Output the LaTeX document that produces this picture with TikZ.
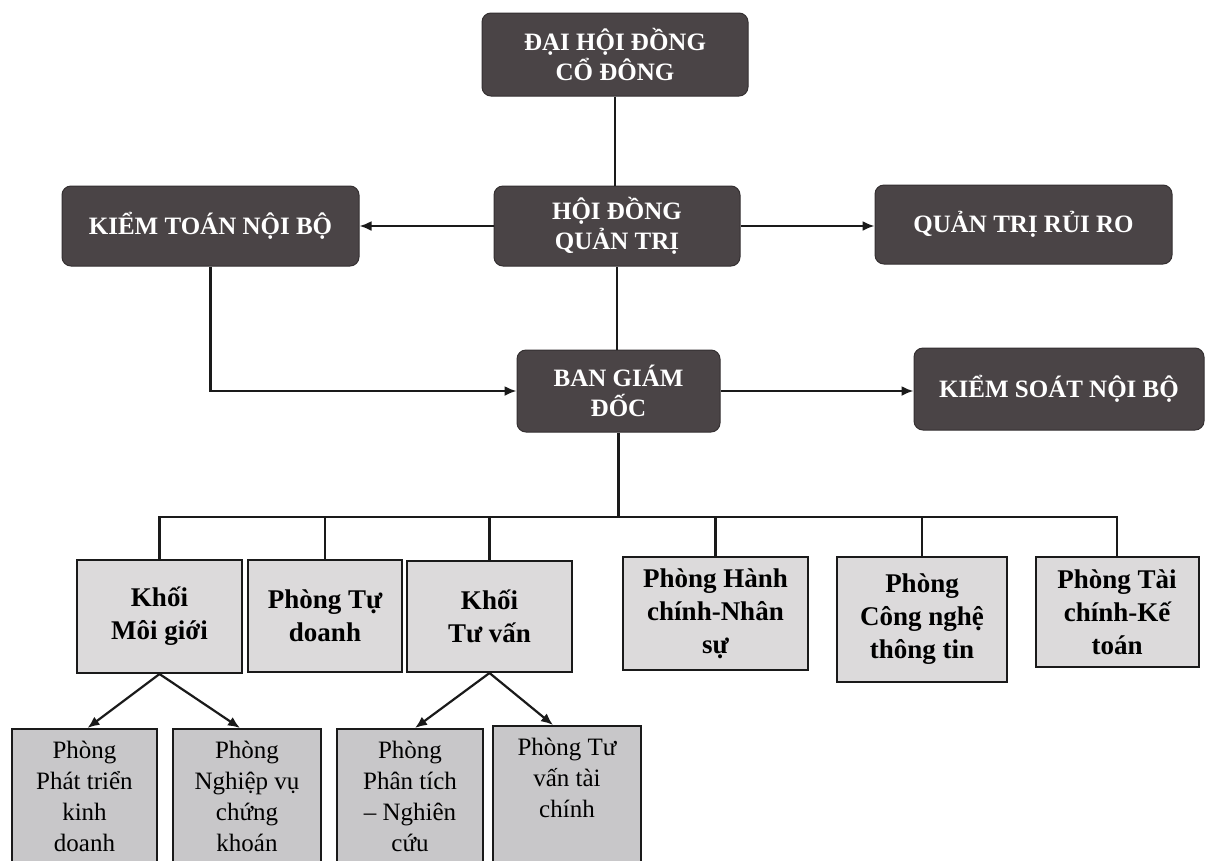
\documentclass[tikz,border=0pt]{standalone}
\usepackage{fontspec}
\setmainfont{Liberation Serif}
\usetikzlibrary{arrows.meta}
\definecolor{darkbox}{HTML}{4A4446}
\definecolor{midfill}{HTML}{DCDADB}
\definecolor{lowfill}{HTML}{C8C7C9}
\definecolor{lin}{HTML}{1A1A1A}
\begin{document}
\begin{tikzpicture}[x=1pt,y=-1pt,
  topbox/.style={draw=darkbox!70!black, fill=darkbox, rounded corners=9pt, text=white,
    font=\bfseries\fontsize{25}{30}\selectfont, align=center, inner sep=0pt, line width=1pt},
  midbox/.style={draw=lin, fill=midfill, line width=2pt, align=center, inner sep=0pt,
    font=\bfseries\fontsize{27}{33}\selectfont},
  lowbox/.style={draw=lin, fill=lowfill, line width=2pt, inner sep=0pt},
  lowtext/.style={align=center, inner sep=0pt, font=\fontsize{25}{31}\selectfont, anchor=north},
  conn/.style={draw=lin, line width=2.2pt},
  arr/.style={conn, -{Latex[length=12pt,width=10pt]}}]
\useasboundingbox (0,0) rectangle (1206,860);
\clip (0,0) rectangle (1206,860);
\fill[white] (0,0) rectangle (1206,860);

% top level
\node[topbox, minimum width=266pt, minimum height=83pt] (dh) at (615,54.5) {ĐẠI HỘI ĐỒNG\\CỔ ĐÔNG};
\node[topbox, minimum width=297pt, minimum height=80pt] (ktnb) at (210.5,226) {KIỂM TOÁN NỘI BỘ};
\node[topbox, minimum width=246pt, minimum height=80pt] (hdqt) at (617,226) {HỘI ĐỒNG\\QUẢN TRỊ};
\node[topbox, minimum width=297pt, minimum height=79pt] (qtrr) at (1023.5,224.5) {QUẢN TRỊ RỦI RO};
\node[topbox, minimum width=203pt, minimum height=82pt] (bgd) at (618.5,391) {BAN GIÁM\\ĐỐC};
\node[topbox, minimum width=290pt, minimum height=82pt] (ksnb) at (1059,389) {KIỂM SOÁT NỘI BỘ};

\draw[conn] (dh.south) -- (dh.south |- hdqt.north);
\draw[conn] (hdqt.south) -- (hdqt.south |- bgd.north);
\draw[arr] (hdqt.west) -- (ktnb.east);
\draw[arr] (hdqt.east) -- (hdqt.east -| qtrr.west);
\draw[arr] (ktnb.south) |- (bgd.west);
\draw[arr] (bgd.east) -- (bgd.east -| ksnb.west);

% middle level
\node[midbox, minimum width=165pt, minimum height=113pt] (kmg) at (159.5,616.5) {Khối\\Môi giới};
\node[midbox, minimum width=154pt, minimum height=112pt] (ptd) at (325,616) {Phòng Tự\\doanh};
\node[midbox, minimum width=165pt, minimum height=111pt] (ktv) at (489.5,616.5) {Khối\\Tư vấn};
\node[midbox, minimum width=185pt, minimum height=113pt] (hcns) at (715.5,613.5) {Phòng Hành\\chính-Nhân\\sự};
\node[midbox, minimum width=170pt, minimum height=125pt] (cntt) at (922,619.5) {Phòng\\Công nghệ\\thông tin};
\node[midbox, minimum width=163pt, minimum height=110pt] (tckt) at (1117,612) {Phòng Tài\\chính-Kế\\toán};

\coordinate (bus) at (618.5,517);
\draw[conn] (bgd.south) -- (bus);
\draw[conn] (kmg.north) -- (kmg.north |- bus) -- (tckt.north |- bus) -- (tckt.north);
\draw[conn] (ptd.north) -- (ptd.north |- bus);
\draw[conn] (ktv.north) -- (ktv.north |- bus);
\draw[conn] (hcns.north) -- (hcns.north |- bus);
\draw[conn] (cntt.north) -- (cntt.north |- bus);

% lower level
\node[lowbox, minimum width=145pt, minimum height=150pt, anchor=north] (ppt) at (84.5,728) {};
\node[lowbox, minimum width=148pt, minimum height=150pt, anchor=north] (pnv) at (247,728) {};
\node[lowbox, minimum width=146pt, minimum height=150pt, anchor=north] (ppc) at (410,728) {};
\node[lowbox, minimum width=148pt, minimum height=150pt, anchor=north] (ptv) at (567,725) {};
\node[lowtext] (tppt) at ([yshift=-13pt]ppt.north) {Phòng\\Phát triển\\kinh\\doanh};
\node[lowtext] (tpnv) at ([yshift=-13pt]pnv.north) {Phòng\\Nghiệp vụ\\chứng\\khoán};
\node[lowtext] (tppc) at ([yshift=-13pt]ppc.north) {Phòng\\Phân tích\\– Nghiên\\cứu};
\node[lowtext] (tptv) at ([yshift=-13pt]ptv.north) {Phòng Tư\\vấn tài\\chính};

\draw[arr] (kmg.south) -- ([xshift=3pt]ppt.north);
\draw[arr] (kmg.south) -- ([xshift=-7pt]pnv.north);
\draw[arr] (ktv.south) -- ([xshift=5pt]ppc.north);
\draw[arr] (ktv.south) -- ([xshift=-14pt]ptv.north);
\end{tikzpicture}
\end{document}
